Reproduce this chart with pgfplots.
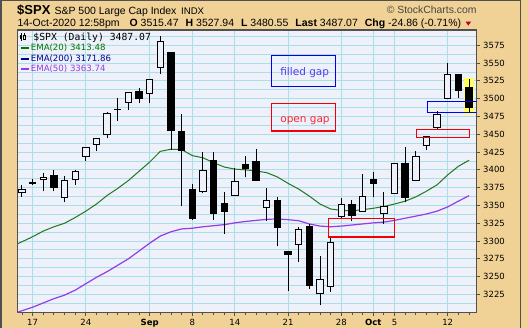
\documentclass[border=0pt]{standalone}
\usepackage{pgfplots}
\pgfplotsset{compat=1.18}
\usepackage{fontspec}
\setmainfont{Liberation Sans}
\newfontfamily\dv{DejaVu Sans}
\newfontfamily\dvm{DejaVu Sans Mono}

\definecolor{tanbg}{RGB}{240,210,150}
\definecolor{plotbg}{RGB}{238,240,250}
\definecolor{gridc}{RGB}{170,222,232}
\definecolor{framec}{RGB}{80,80,80}
\definecolor{emagreen}{RGB}{30,120,30}
\definecolor{emapurple}{RGB}{150,60,230}
\definecolor{emanavy}{RGB}{0,0,140}
\definecolor{legreen}{RGB}{0,120,0}
\definecolor{gapblue}{RGB}{0,0,240}
\definecolor{gapred}{RGB}{240,0,0}
\definecolor{txtblue}{RGB}{80,60,240}
\definecolor{txtred}{RGB}{250,40,50}
\definecolor{hiyellow}{RGB}{255,255,100}
\definecolor{downred}{RGB}{180,0,40}

% candle: index, open, high, low, close
\newcommand\candle[5]{%
  \pgfmathsetmacro\xa{#1-0.3}%
  \pgfmathsetmacro\xb{#1+0.3}%
  \ifdim #5pt<#2pt \def\fc{black}\else\def\fc{plotbg}\fi
  \edef\temp{%
    \noexpand\addplot[black, line width=1pt, forget plot] coordinates {(#1,#4) (#1,#3)};%
    \noexpand\addplot[draw=black, fill=\fc, line width=1pt, forget plot] coordinates {(\xa,#2) (\xb,#2) (\xb,#5) (\xa,#5)} -- cycle;%
  }\temp
}

\begin{document}
\begin{tikzpicture}[x=1pt,y=1pt]
\fill[tanbg] (0,0) rectangle (528,328);
\draw[framec, line width=1.5pt] (1,0) -- (1,327.4) -- (520.5,327.4) -- (520.5,0);
\begin{axis}[
  at={(17.3pt,15.3pt)}, anchor=south west,
  scale only axis, width=459.4pt, height=282.7pt,
  xmin=-0.44, xmax=42.72, ymin=3199.3, ymax=3596.5,
  axis background/.style={fill=plotbg},
  axis line style={draw=framec, line width=1.2pt},
  xtick={1,6,12,16,20,25,30,33,35,40},
  xticklabels={17,24,\textbf{Sep},8,14,21,28,\textbf{Oct},5,12},
  extra x ticks={0,...,42},
  extra x tick labels={},
  extra x tick style={grid=none, major tick length=2pt},
  ytick={3225,3250,...,3575},
  minor ytick={3212.5,3237.5,...,3587.5},
  xmajorgrids, ymajorgrids, yminorgrids,
  major grid style={draw=gridc, line width=0.9pt},
  minor grid style={draw=gridc, line width=0.9pt},
  tick align=outside, major tick length=3pt, minor tick length=0pt,
  xtick pos=left, ytick pos=right,
  yticklabel pos=right,
  tick style={draw=framec, line width=0.9pt},
  x tick label style={font=\dv\fontsize{8.5}{10}\selectfont, text=black},
  y tick label style={font=\dv\fontsize{8.5}{10}\selectfont, text=black, anchor=west},
  /pgf/number format/assume math mode=true,
  /pgf/number format/1000 sep={},
  scaled y ticks=false,
]
% highlight of last bar
\addplot[fill=hiyellow, draw=none, forget plot] coordinates {(41.5,3529.5) (42.44,3529.5) (42.44,3477.6) (41.5,3477.6)} -- cycle;

% EMA(50)
\addplot[emapurple, line width=1.2pt, forget plot] coordinates {
(-0.44,3200) (0,3202) (1,3207) (2,3213) (3,3219) (4,3224) (5,3231) (6,3240) (7,3249)
(8,3257) (9,3266) (10,3275) (11,3286) (12,3297) (13,3307) (14,3313) (15,3317)
(16,3318) (17,3320) (18,3321.5) (19,3323) (20,3325.5) (21,3327.5) (22,3329)
(23,3330.5) (24,3331) (25,3330) (26,3328.5) (27,3324) (28,3321) (29,3320)
(30,3321) (31,3322.5) (32,3324) (33,3325.5) (34,3326.5) (35,3329) (36,3332)
(37,3335) (38,3338) (39,3342) (40,3348) (41,3356) (42,3363.7)};

% EMA(20)
\addplot[emagreen, line width=1pt, forget plot] coordinates {
(-0.44,3296) (0,3299) (1,3306) (2,3314) (3,3320) (4,3325) (5,3333) (6,3342) (7,3352)
(8,3364) (9,3374) (10,3385) (11,3398) (12,3411) (13,3426) (14,3429) (15,3428.5)
(16,3420) (17,3417) (18,3410) (19,3404) (20,3401) (21,3400) (22,3398.5)
(23,3396) (24,3390) (25,3381) (26,3373) (27,3363) (28,3352) (29,3345)
(30,3343) (31,3342.5) (32,3344) (33,3346) (34,3348.5) (35,3352) (36,3356)
(37,3362) (38,3370) (39,3379) (40,3393) (41,3405) (42,3413.5)};

\candle{0}{3368.66}{3378.51}{3361.64}{3372.85}
\candle{1}{3380.86}{3387.59}{3379.22}{3381.99}
\candle{2}{3387.04}{3395.06}{3370.15}{3389.78}
\candle{3}{3392.51}{3399.54}{3369.66}{3374.85}
\candle{4}{3360.48}{3390.80}{3354.69}{3385.51}
\candle{5}{3386.01}{3399.96}{3379.31}{3397.16}
\candle{6}{3418.09}{3432.09}{3413.13}{3431.28}
\candle{7}{3435.95}{3444.21}{3425.84}{3443.62}
\candle{8}{3449.97}{3481.07}{3444.15}{3478.73}
\candle{9}{3485.14}{3501.38}{3468.35}{3484.55}
\candle{10}{3494.69}{3509.23}{3484.32}{3508.01}
\candle{11}{3509.73}{3514.77}{3493.25}{3500.31}
\candle{12}{3507.44}{3528.03}{3494.60}{3526.65}
\candle{13}{3543.76}{3588.11}{3535.23}{3580.84}
\candle{14}{3564.74}{3564.85}{3427.41}{3455.06}
\candle{15}{3453.60}{3479.15}{3349.63}{3426.96}
\candle{16}{3371.88}{3379.97}{3329.27}{3331.84}
\candle{17}{3369.82}{3424.77}{3366.84}{3398.96}
\candle{18}{3412.56}{3425.55}{3329.25}{3339.19}
\candle{19}{3352.70}{3368.95}{3310.47}{3340.97}
\candle{20}{3363.56}{3402.93}{3363.56}{3383.54}
\candle{21}{3407.73}{3419.48}{3389.25}{3401.20}
\candle{22}{3411.23}{3428.92}{3384.45}{3385.49}
\candle{23}{3346.86}{3375.17}{3328.82}{3357.01}
\candle{24}{3357.38}{3362.27}{3292.40}{3319.47}
\candle{25}{3285.57}{3285.57}{3229.10}{3281.06}
\candle{26}{3295.75}{3320.31}{3270.95}{3315.57}
\candle{27}{3320.11}{3323.35}{3232.57}{3236.92}
\candle{28}{3226.14}{3278.70}{3209.45}{3246.59}
\candle{29}{3236.66}{3306.88}{3228.44}{3298.46}
\candle{30}{3333.90}{3360.74}{3332.91}{3351.60}
\candle{31}{3350.92}{3357.92}{3327.54}{3335.47}
\candle{32}{3341.21}{3393.56}{3340.47}{3363.00}
\candle{33}{3385.87}{3397.18}{3361.39}{3380.80}
\candle{34}{3338.94}{3369.10}{3323.69}{3348.42}
\candle{35}{3367.27}{3409.57}{3367.27}{3408.60}
\candle{36}{3408.74}{3431.56}{3354.54}{3360.97}
\candle{37}{3384.56}{3426.26}{3384.56}{3419.44}
\candle{38}{3434.28}{3447.28}{3428.15}{3446.83}
\candle{39}{3459.67}{3482.34}{3458.07}{3477.14}
\candle{40}{3500.02}{3549.85}{3499.61}{3534.22}
\candle{41}{3534.01}{3534.01}{3500.86}{3511.93}
\candle{42}{3515.47}{3527.94}{3480.55}{3487.07}

% gap boxes
\addplot[draw=gapblue, line width=1.2pt, forget plot] coordinates {(38.08,3481) (42.95,3481) (42.95,3496.4) (38.08,3496.4)} -- cycle;
\addplot[draw=gapred, line width=1.2pt, forget plot] coordinates {(37.05,3445.3) (42.07,3445.3) (42.07,3457.1) (37.05,3457.1)} -- cycle;
\addplot[draw=gapred, line width=1.2pt, forget plot] coordinates {(28.79,3305.6) (34.99,3305.6) (34.99,3332.2) (28.79,3332.2)} -- cycle;
\end{axis}

% header
\node[anchor=base west, inner sep=0pt, font=\bfseries\fontsize{13}{15}\selectfont] at (17,313) {\$SPX};
\node[anchor=base west, inner sep=0pt, font=\fontsize{10.5}{12}\selectfont] at (54.3,313) {S\&P 500 Large Cap Index};
\node[anchor=base west, inner sep=0pt, font=\fontsize{9.6}{11}\selectfont] at (181,313) {INDX};
\node[anchor=base east, inner sep=0pt, font=\fontsize{10.4}{12}\selectfont, text={rgb,255:red,70;green,70;blue,70}] at (476.7,314) {\textcopyright\ StockCharts.com};
\node[anchor=base west, inner sep=0pt, font=\fontsize{10.5}{12}\selectfont] at (17.3,301.3) {14-Oct-2020 12:58pm\hspace{10pt}\textbf{O} 3515.47\hspace{7pt}\textbf{H} 3527.94\hspace{7pt}\textbf{L} 3480.55\hspace{7pt}\textbf{Last} 3487.07\hspace{7pt}\textbf{Chg} -24.86 (-0.71\%)};
\fill[downred] (465.6,306.3) -- (471,306.3) -- (468.3,302.4) -- cycle;

% legend
\fill[black] (20.3,288.5) rectangle (22.3,293);
\draw[black, line width=0.6pt] (21.3,287) -- (21.3,295);
\draw[black, line width=0.6pt] (23.6,289) rectangle (25.2,292.5);
\draw[black, line width=0.6pt] (24.4,287.5) -- (24.4,289) (24.4,292.5) -- (24.4,294.5);
\node[anchor=base west, inner sep=0pt, font=\dvm\fontsize{9.75}{11}\selectfont] at (33.3,287.3) {\$SPX (Daily) 3487.07};
\draw[legreen, line width=2pt] (20.7,280) -- (29.3,280);
\node[anchor=base west, inner sep=0pt, text=legreen, font=\dv\fontsize{8.6}{10}\selectfont] at (30.7,277) {EMA(20) 3413.48};
\draw[emanavy, line width=2pt] (20.7,269.3) -- (29.3,269.3);
\node[anchor=base west, inner sep=0pt, text=emanavy, font=\dv\fontsize{8.6}{10}\selectfont] at (30.7,266.3) {EMA(200) 3171.86};
\draw[emapurple, line width=2pt] (20.7,259.3) -- (29.3,259.3);
\node[anchor=base west, inner sep=0pt, text=emapurple, font=\dv\fontsize{8.6}{10}\selectfont] at (30.7,256.3) {EMA(50) 3363.74};

% annotation boxes
\draw[gapblue, line width=1.2pt] (271.7,272.7) rectangle (335.7,241.7);
\node[anchor=base, inner sep=0pt, text=txtblue, font=\dv\fontsize{10.5}{12}\selectfont] at (304.7,252.3) {filled gap};
\draw[gapred, line width=1.2pt] (271.7,224.7) rectangle (335.7,197);
\node[anchor=base, inner sep=0pt, text=txtred, font=\dv\fontsize{10.5}{12}\selectfont] at (305,205.7) {open gap};

\pgfresetboundingbox
\useasboundingbox (0,0) rectangle (528,328);
\end{tikzpicture}
\end{document}
